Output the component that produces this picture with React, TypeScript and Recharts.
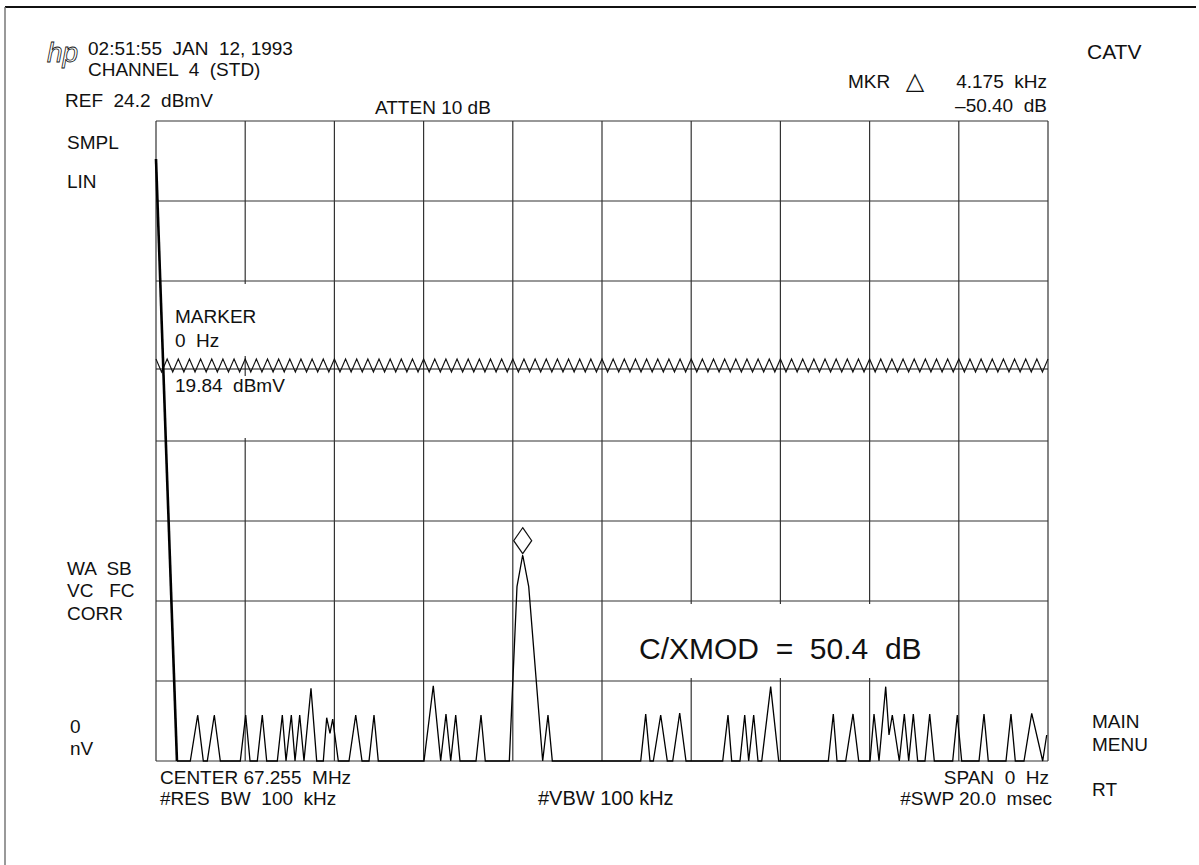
import React from 'react';
import { ComposedChart, Line, Scatter, XAxis, YAxis, CartesianGrid, ReferenceLine } from 'recharts';

// zero-span sweep, time in msec, level in screen divisions (linear scale, 0 = bottom)
const sweepTimeMs = [
  0.47, 0.769, 0.935, 1.061, 1.15, 1.307, 1.442, 1.89, 2.011, 2.108,
  2.271, 2.383, 2.482, 2.72, 2.832, 2.915, 3.034, 3.117, 3.222, 3.318,
  3.475, 3.603, 3.751, 3.827, 3.901, 3.962, 4.088, 4.327, 4.478, 4.619,
  4.776, 4.888, 4.984, 6.009, 6.217, 6.383, 6.502, 6.608, 6.72, 6.816,
  7.175, 7.287, 7.383, 7.922, 8.094, 8.222, 8.357, 8.67, 8.789, 8.886,
  10.868, 10.98, 11.076, 11.15, 11.316, 11.464, 11.585, 11.742, 11.883, 12.706,
  12.825, 12.908, 13.094, 13.2, 13.289, 13.401, 13.498, 13.581, 13.782, 13.962,
  15.074, 15.186, 15.269, 15.464, 15.628, 15.756, 16.009, 16.099, 16.211, 16.361,
  16.435, 16.509, 16.666, 16.778, 16.877, 16.98, 17.078, 17.242, 17.348, 17.451,
  17.863, 17.966, 18.065, 18.453, 18.565, 18.661, 19.058, 19.17, 19.267, 19.462,
  19.635, 19.881, 19.971,
];
const traceLevelDiv = [
  0, 0, 0.575, 0, 0, 0.575, 0, 0, 0.575, 0,
  0, 0.575, 0, 0, 0.575, 0, 0.575, 0, 0.575, 0,
  0.909, 0, 0, 0.541, 0.346, 0.525, 0, 0, 0.575, 0,
  0, 0.575, 0, 0, 0.941, 0, 0.588, 0, 0.575, 0,
  0, 0.575, 0, 0, 2.179, 2.575, 2.179, 0, 0.575, 0,
  0, 0.588, 0, 0, 0.575, 0, 0, 0.6, 0, 0,
  0.575, 0, 0, 0.575, 0, 0.575, 0, 0, 0.929, 0,
  0, 0.588, 0, 0, 0.588, 0, 0, 0.588, 0, 0.929,
  0.325, 0.575, 0, 0.588, 0, 0.588, 0, 0, 0.588, 0,
  0, 0.575, 0, 0, 0.588, 0, 0, 0.588, 0, 0,
  0.596, 0, 0.325,
];

// the fast falling edge at the start of the sweep
const edgeTimeMs = [0, 0.47];
const edgeLevelDiv = [7.525, 0];

// delta marker sits above the carrier peak
const markerTimeMs = [8.222];
const markerLevelDiv = [2.754];

// display line replaces the 5th graticule line
const displayLineDiv = 4.9;
const timeTicks = [0, 2, 4, 6, 8, 10, 12, 14, 16, 18, 20];
const levelTicks = [0, 1, 2, 3, 4, 6, 7, 8];

const trace = sweepTimeMs.map((t, i) => ({ t, v: traceLevelDiv[i] }));
const edge = edgeTimeMs.map((t, i) => ({ t, v: edgeLevelDiv[i] }));
const marker = markerTimeMs.map((t, i) => ({ t, v: markerLevelDiv[i] }));

const FONT = '"Liberation Sans", Arial, sans-serif';

const DisplayLine = (props: any) => {
  const { x1, y1, x2 } = props;
  const teeth = 80;
  const step = (x2 - x1) / (teeth * 2);
  const pts: string[] = [];
  for (let i = 0; i <= teeth * 2; i++) {
    pts.push(`${x1 + i * step},${i % 2 === 0 ? y1 - 10 : y1 + 3}`);
  }
  return (
    <g>
      <line x1={x1} y1={y1} x2={x2} y2={y1} stroke="#111" strokeWidth={1.2} />
      <polyline points={pts.join(' ')} fill="none" stroke="#111" strokeWidth={1.1} />
    </g>
  );
};

const Diamond = (props: any) => {
  const { cx, cy } = props;
  return (
    <polygon
      points={`${cx},${cy - 13} ${cx + 9},${cy} ${cx},${cy + 13} ${cx - 9},${cy}`}
      fill="#fff"
      stroke="#111"
      strokeWidth={1.2}
    />
  );
};

const Label = ({ x, y, children, anchor = 'start', size = 19 }: any) => (
  <text x={x} y={y} textAnchor={anchor} fontSize={size} fontFamily={FONT} fill="#111" style={{ whiteSpace: 'pre' }}>
    {children}
  </text>
);

export default function App() {
  return (
    <div style={{ position: 'absolute', left: 0, top: 0, width: 1199, height: 865, background: '#fff' }}>
      <ComposedChart
        width={1199}
        height={865}
        data={trace}
        margin={{ top: 121, right: 151, bottom: 104, left: 156 }}
      >
        <XAxis dataKey="t" type="number" domain={[0, 20]} ticks={timeTicks} hide />
        <YAxis type="number" domain={[0, 8]} ticks={levelTicks} hide />
        <CartesianGrid stroke="#333" strokeWidth={1.2} />
        <ReferenceLine y={displayLineDiv} shape={(p: any) => <DisplayLine {...p} />} />
        <Line
          type="linear"
          dataKey="v"
          stroke="#000"
          strokeWidth={1.3}
          dot={false}
          isAnimationActive={false}
        />
        <Line
          data={edge}
          type="linear"
          dataKey="v"
          stroke="#000"
          strokeWidth={2.6}
          dot={false}
          isAnimationActive={false}
        />
        <Scatter data={marker} dataKey="v" shape={(p: any) => <Diamond {...p} />} isAnimationActive={false} />
      </ComposedChart>

      <svg
        width={1199}
        height={865}
        style={{ position: 'absolute', left: 0, top: 0, pointerEvents: 'none' }}
      >
        {/* plot frame */}
        <line x1={5} y1={7} x2={1196} y2={7} stroke="#111" strokeWidth={2} />
        <line x1={5} y1={7} x2={5} y2={865} stroke="#777" strokeWidth={1.5} />

        {/* annotation blocks blank out the graticule */}
        <rect x={168} y={284} width={162} height={72} fill="#fff" />
        <rect x={168} y={376} width={162} height={62} fill="#fff" />
        <rect x={606} y={604} width={344} height={74} fill="#fff" />

        <text x={47} y={62} fontSize={28} fontStyle="italic" fontFamily={FONT} fill="none" stroke="#111" strokeWidth={0.8}>
          hp
        </text>
        <Label x={88} y={55}>02:51:55  JAN  12, 1993</Label>
        <Label x={88} y={76}>CHANNEL  4  (STD)</Label>
        <Label x={65} y={107}>REF  24.2  dBmV</Label>
        <Label x={375} y={114}>ATTEN 10 dB</Label>
        <Label x={1087} y={59} size={21}>CATV</Label>
        <Label x={848} y={88}>MKR</Label>
        <text x={915} y={89} textAnchor="middle" fontSize={24} fontFamily="DejaVu Sans" fill="#111">△</text>
        <Label x={1047} y={88} anchor="end">4.175  kHz</Label>
        <Label x={1047} y={112} anchor="end">–50.40  dB</Label>

        <Label x={67} y={149}>SMPL</Label>
        <Label x={67} y={188}>LIN</Label>
        <Label x={67} y={575}>WA  SB</Label>
        <Label x={67} y={597}>VC   FC</Label>
        <Label x={67} y={620}>CORR</Label>
        <Label x={70} y={733}>0</Label>
        <Label x={70} y={755}>nV</Label>

        <Label x={175} y={323}>MARKER</Label>
        <Label x={175} y={347}>0  Hz</Label>
        <Label x={175} y={392}>19.84  dBmV</Label>

        <Label x={639} y={659} size={30}>C/XMOD  =  50.4  dB</Label>

        <Label x={160} y={784}>CENTER 67.255  MHz</Label>
        <Label x={160} y={805}>#RES  BW  100  kHz</Label>
        <Label x={538} y={805} size={20}>#VBW 100 kHz</Label>
        <Label x={1049} y={784} anchor="end">SPAN  0  Hz</Label>
        <Label x={1052} y={805} anchor="end">#SWP 20.0  msec</Label>

        <Label x={1092} y={728}>MAIN</Label>
        <Label x={1092} y={751}>MENU</Label>
        <Label x={1092} y={796}>RT</Label>
      </svg>
    </div>
  );
}
